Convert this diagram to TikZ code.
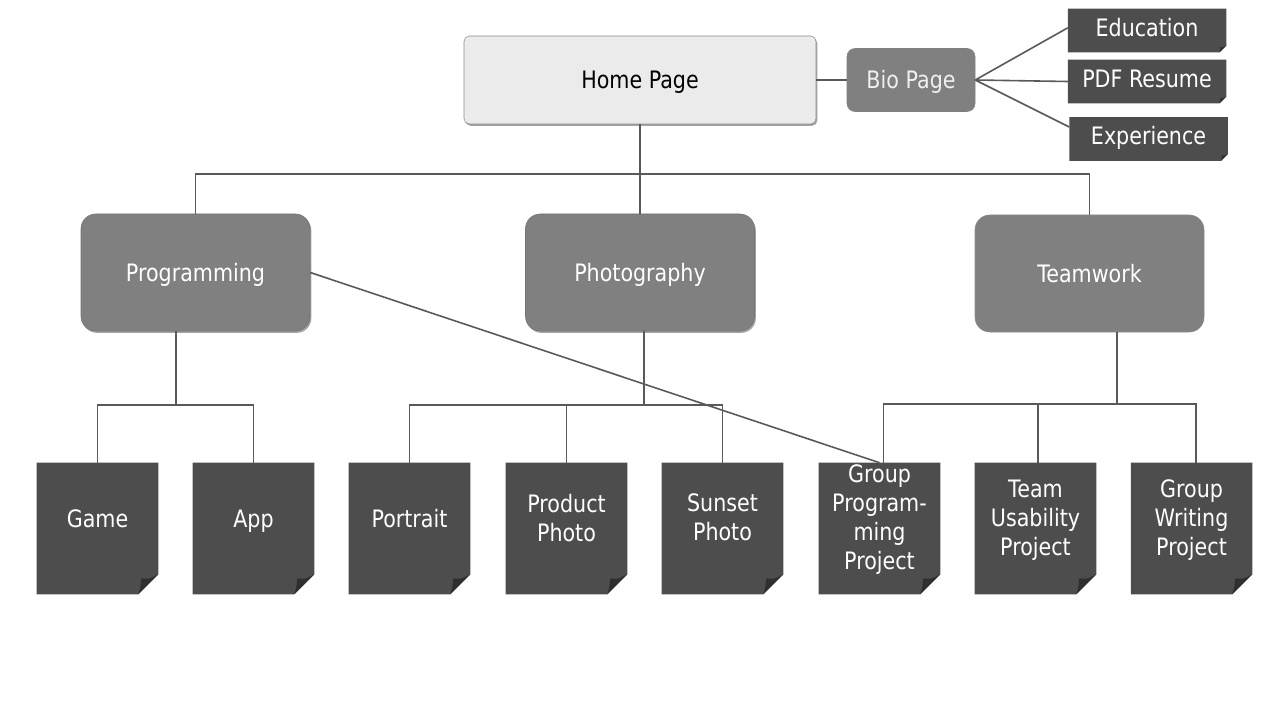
\documentclass[tikz,border=0pt]{standalone}
\usepackage{fontspec}
\setmainfont{DejaVu Sans}[FakeStretch=0.86]
\usepackage{xcolor}
\usetikzlibrary{shadows,calc}
\definecolor{wline}{HTML}{595959}
\definecolor{wlight}{HTML}{EBEBEB}
\definecolor{wmid}{HTML}{808080}
\definecolor{wdark}{HTML}{4D4D4D}
\definecolor{wfold}{HTML}{2F2F2F}
% page with a turned-down corner, drawn behind a named node
\newcommand{\dogear}[2]{%
  \fill[wdark] (#1.north west) -- (#1.north east) -- ([yshift=#2]#1.south east)
    -- ([xshift=-#2]#1.south east) -- (#1.south west) -- cycle;
  \fill[wfold] ([yshift=#2]#1.south east)
    .. controls ([xshift=-0.45*#2,yshift=0.75*#2]#1.south east) .. ([xshift=-0.85*#2,yshift=0.8*#2]#1.south east)
    .. controls ([xshift=-0.9*#2,yshift=0.3*#2]#1.south east) .. ([xshift=-#2]#1.south east) -- cycle;}

\begin{document}
\begin{tikzpicture}[x=0.75pt,y=-0.75pt,font=\fontsize{18}{21.75}\selectfont,
  wire/.style={draw=wline,line width=1.2pt},
  oneline/.style={text height=13pt,text depth=0pt},
  bevel/.style={drop shadow={shadow xshift=1pt,shadow yshift=-1.4pt,fill=black!60,opacity=.6}},
  homebox/.style={oneline,draw=black!45,fill=wlight,rounded corners=4pt,
                  minimum width=264pt,minimum height=66pt,bevel},
  topic/.style={oneline,draw=black!55,fill=wmid,text=white,rounded corners=11pt,
                minimum width=171.75pt,minimum height=87.75pt},
  biobox/.style={oneline,draw=black!50,fill=wmid,text=white!94!black,rounded corners=6pt,
                 minimum width=96pt,minimum height=47.25pt},
  sheet/.style={inner sep=0pt,minimum width=118.5pt,minimum height=32.25pt},
  sheettext/.style={oneline,inner sep=0pt,text=white},
  leaf/.style={inner sep=0pt,minimum width=90.75pt,minimum height=98.25pt},
  leaftext/.style={align=center,text=white,inner sep=0pt,
                   execute at begin node=\strut,execute at end node=\strut}]

\useasboundingbox (0,0) rectangle (1280,720);

% top row
\node[homebox] (home) at (640,80) {Home Page};
\node[biobox] (bio) at (911,80) {Bio Page};
\foreach \n/\x/\y/\t in {edu/1147/30.5/Education,pdf/1147/81.5/PDF Resume,exp/1148.5/139/Experience}{
  \node[sheet] (\n) at (\x,\y) {};
  \dogear{\n}{5pt}
  \node[sheettext] (\n-t) at ([yshift=2pt]\n.center) {\t};
}

% second row
\node[topic,bevel] (prog) at (195.5,272.5) {Programming};
\node[topic,bevel] (photo) at (640,272.5) {Photography};
\node[topic,draw=black!45] (team) at (1089.5,273.5) {Teamwork};

% leaves
\foreach \n/\x/\t in {game/97.5/Game,app/253.5/App,portrait/409.5/Portrait,
    product/566.5/{Product\\Photo},sunset/722.5/{Sunset\\Photo},
    gprog/879.5/{Group\\Program-\\ming\\Project},usab/1035.5/{Team\\Usability\\Project},
    gwrite/1191.5/{Group\\Writing\\Project}}{
  \node[leaf] (\n) at (\x,528.5) {};
  \dogear{\n}{15pt}
  \node[leaftext] (\n-t) at ([yshift=5pt]\n.center) {\t};
}

% connectors
\coordinate (bus) at (640,174);
\coordinate (progbus) at (176,405);
\coordinate (photobus) at (644,405);
\coordinate (teambus) at (1117,404);

\draw[wire] (home) -- (bio);
\draw[wire] (bio.east) -- ([yshift=2pt]edu.west);
\draw[wire] (bio.east) -- (pdf.west);
\draw[wire] (bio.east) -- ([yshift=9pt]exp.west);

\draw[wire] (home) -- (photo);
\draw[wire] (prog.north) |- (bus) -| (team.north);

\draw[wire] (prog.south -| progbus) -- (progbus);
\draw[wire] (game.north) |- (progbus) -| (app.north);

\draw[wire] (photo.south -| photobus) -- (photobus);
\draw[wire] (portrait.north) |- (photobus) -| (sunset.north);
\draw[wire] (product.north) -- (product.north |- photobus);

\draw[wire] (team.south -| teambus) -- (teambus);
\draw[wire] ([xshift=3pt]gprog.north) |- (teambus) -| ([xshift=3.5pt]gwrite.north);
\draw[wire] ([xshift=2pt]usab.north) -- ([xshift=2pt]usab.north |- teambus);

\draw[wire] (prog.east) -- (gprog.north);
\end{tikzpicture}
\end{document}
